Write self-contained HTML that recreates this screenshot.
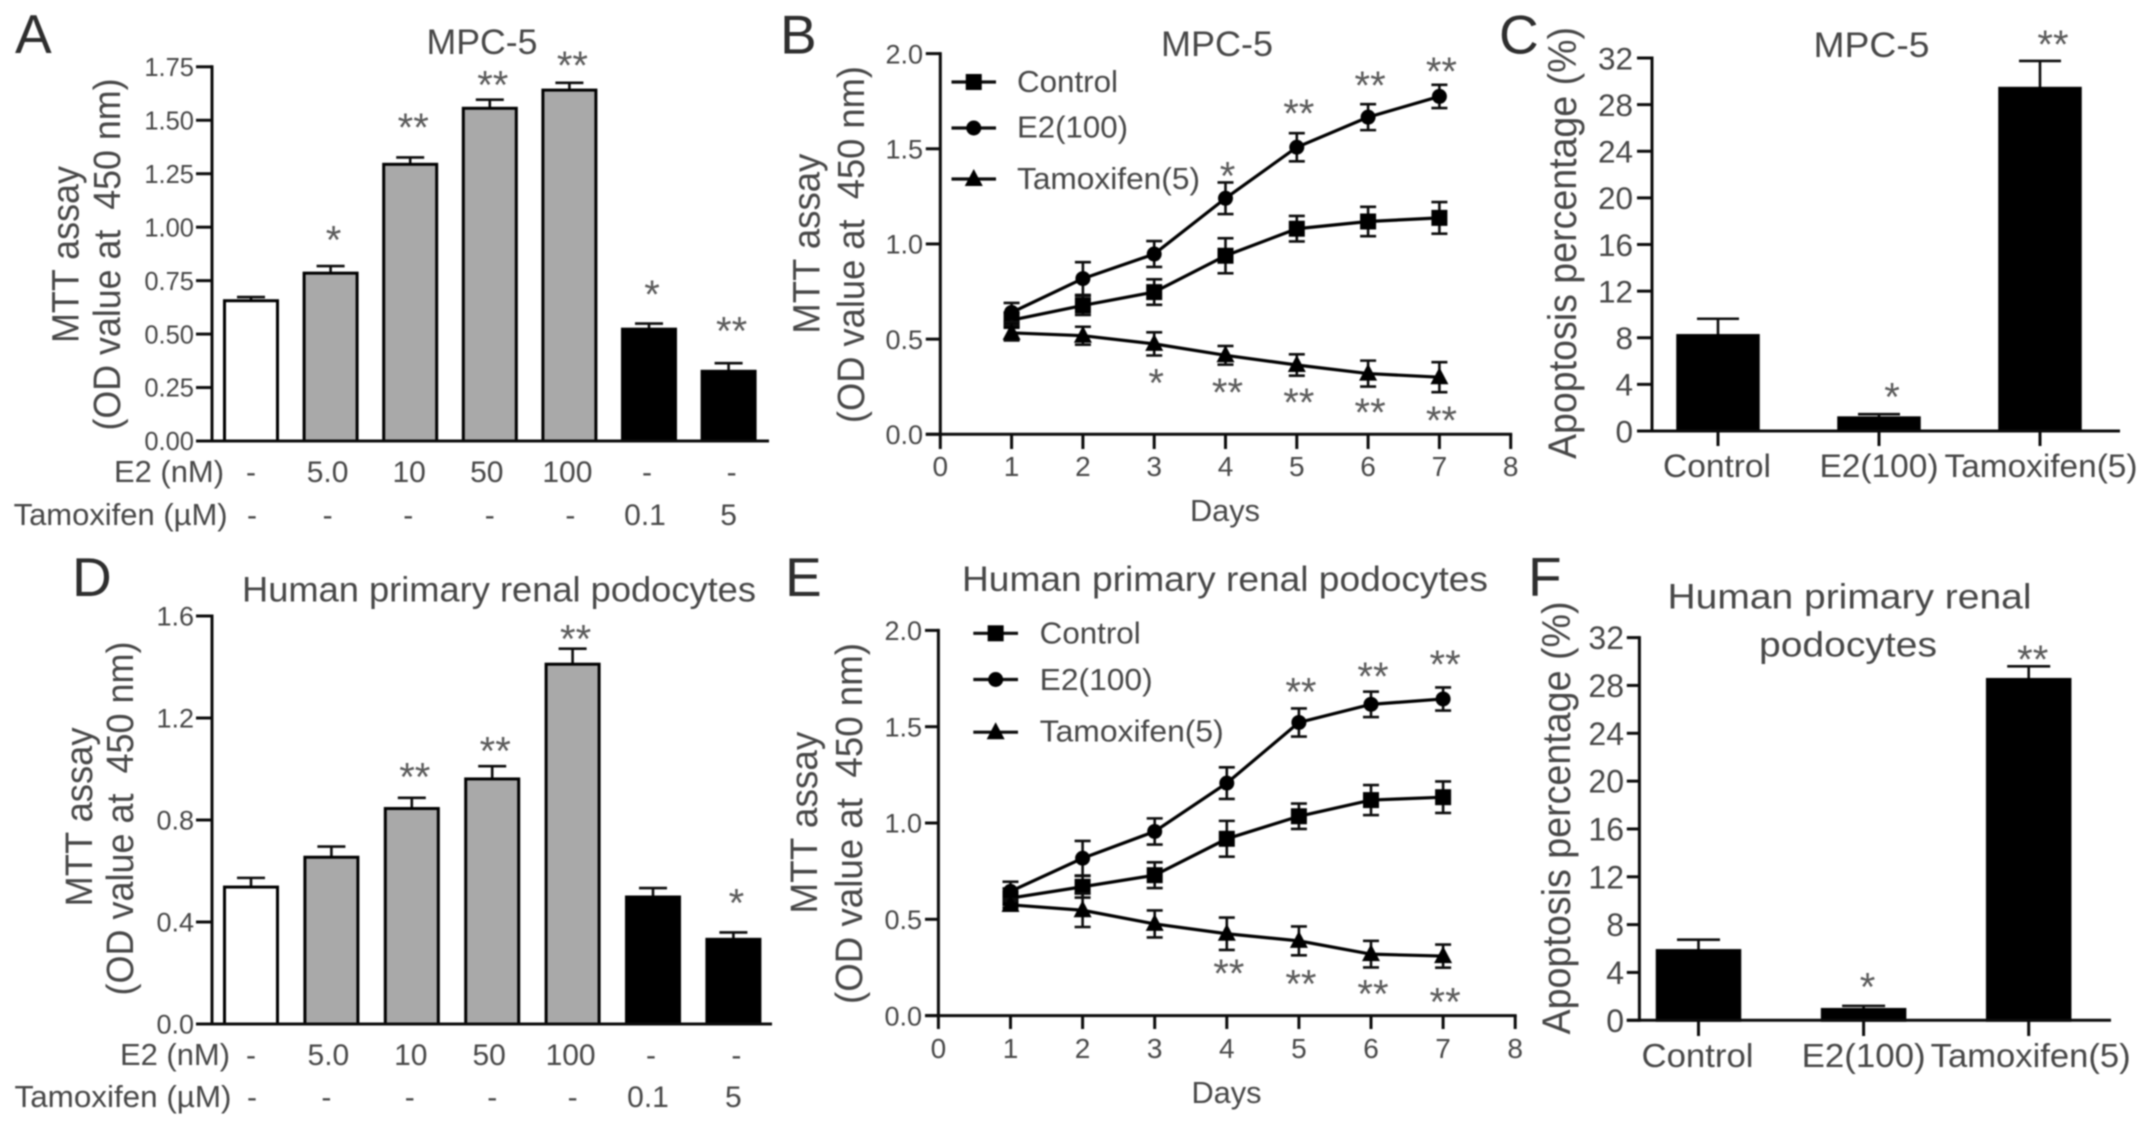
<!DOCTYPE html>
<html lang="en">
<head>
<meta charset="utf-8">
<title>MTT assay and apoptosis panels</title>
<style>
html,body{margin:0;padding:0;background:#fff;width:2150px;height:1126px;overflow:hidden}
svg{display:block;filter:blur(0.8px)}
text{font-family:"Liberation Sans",sans-serif;fill:#474747;white-space:pre}
.let{fill:#2e2e2e;font-size:55px}
.ttl{font-size:35px}
.ytl{font-size:38px;text-anchor:middle}
.row{font-size:31px}
</style>
</head>
<body>
<svg id="fig" xmlns="http://www.w3.org/2000/svg" width="2150" height="1126" viewBox="0 0 2150 1126">
<rect x="0" y="0" width="2150" height="1126" fill="#fff"/>
<text class="let" x="15" y="53">A</text>
<text class="let" x="780" y="53.5">B</text>
<text class="let" x="1499" y="53.5">C</text>
<text class="let" x="72" y="596">D</text>
<text class="let" x="785" y="596">E</text>
<text class="let" x="1528" y="596">F</text>

<text class="ttl" x="482" y="54" text-anchor="middle" textLength="111" lengthAdjust="spacingAndGlyphs">MPC-5</text>
<text class="ttl" x="1217" y="56" text-anchor="middle" textLength="112" lengthAdjust="spacingAndGlyphs">MPC-5</text>
<text class="ttl" x="1871.5" y="57" text-anchor="middle" textLength="116" lengthAdjust="spacingAndGlyphs">MPC-5</text>
<text class="ttl" x="499" y="601.5" text-anchor="middle" textLength="514" lengthAdjust="spacingAndGlyphs">Human primary renal podocytes</text>
<text class="ttl" x="1225" y="591" text-anchor="middle" textLength="526" lengthAdjust="spacingAndGlyphs">Human primary renal podocytes</text>
<text class="ttl" x="1849.5" y="608.5" text-anchor="middle" textLength="364" lengthAdjust="spacingAndGlyphs">Human primary renal</text>
<text class="ttl" x="1848" y="656.5" text-anchor="middle" textLength="178" lengthAdjust="spacingAndGlyphs">podocytes</text>

<text class="ytl" transform="translate(78.5,254.5) rotate(-90)" textLength="177" lengthAdjust="spacingAndGlyphs">MTT assay</text>
<text class="ytl" transform="translate(120,254.5) rotate(-90)" textLength="352" lengthAdjust="spacingAndGlyphs">(OD value at  450 nm)</text>
<text class="ytl" transform="translate(819.6,243.7) rotate(-90)" textLength="180" lengthAdjust="spacingAndGlyphs">MTT assay</text>
<text class="ytl" transform="translate(864,244.6) rotate(-90)" textLength="357" lengthAdjust="spacingAndGlyphs">(OD value at  450 nm)</text>
<text class="ytl" style="font-size:40px" transform="translate(1576,243) rotate(-90)" textLength="432" lengthAdjust="spacingAndGlyphs">Apoptosis percentage (%)</text>
<text class="ytl" transform="translate(92,817) rotate(-90)" textLength="179" lengthAdjust="spacingAndGlyphs">MTT assay</text>
<text class="ytl" transform="translate(133,818.5) rotate(-90)" textLength="354" lengthAdjust="spacingAndGlyphs">(OD value at  450 nm)</text>
<text class="ytl" transform="translate(817,822.6) rotate(-90)" textLength="182" lengthAdjust="spacingAndGlyphs">MTT assay</text>
<text class="ytl" transform="translate(862,823.5) rotate(-90)" textLength="361" lengthAdjust="spacingAndGlyphs">(OD value at  450 nm)</text>
<text class="ytl" style="font-size:40px" transform="translate(1570,818) rotate(-90)" textLength="433" lengthAdjust="spacingAndGlyphs">Apoptosis percentage (%)</text>

<text class="row" x="114" y="482" textLength="110" lengthAdjust="spacingAndGlyphs">E2 (nM)</text>
<text class="row" x="13.6" y="525" textLength="214" lengthAdjust="spacingAndGlyphs">Tamoxifen (µM)</text>
<text class="row" x="120" y="1065" textLength="110" lengthAdjust="spacingAndGlyphs">E2 (nM)</text>
<text class="row" x="14.5" y="1107" textLength="217" lengthAdjust="spacingAndGlyphs">Tamoxifen (µM)</text>

<text class="row" x="1225" y="521" text-anchor="middle" textLength="70" lengthAdjust="spacingAndGlyphs">Days</text>
<text class="row" x="1226.5" y="1103" text-anchor="middle" textLength="70" lengthAdjust="spacingAndGlyphs">Days</text>
</svg>
<script>
// ---- Panel A data ----
const aValues = [0.656, 0.785, 1.294, 1.556, 1.641, 0.523, 0.326];
const aErrors = [0.017, 0.033, 0.032, 0.040, 0.034, 0.026, 0.038];
const aSig = ['', '*', '**', '**', '**', '*', '**'];
const aSigAt = [0, 0.968, 1.494, 1.694, 1.786, 0.713, 0.543];
const aFills = ['white', 'grey', 'grey', 'grey', 'grey', 'black', 'black'];
const aE2 = ['-', '5.0', '10', '50', '100', '-', '-'];
const aTam = ['-', '-', '-', '-', '-', '0.1', '5'];
const aTicks = ['0.00', '0.25', '0.50', '0.75', '1.00', '1.25', '1.50', '1.75'];

// ---- Panel D data ----
const dValues = [0.537, 0.654, 0.845, 0.961, 1.411, 0.498, 0.332];
const dErrors = [0.036, 0.042, 0.042, 0.050, 0.061, 0.035, 0.027];
const dSig = ['', '', '**', '**', '**', '', '*'];
const dSigAt = [0, 0, 0.992, 1.095, 1.534, 0, 0.499];
const dFills = ['white', 'grey', 'grey', 'grey', 'grey', 'black', 'black'];
const dE2 = ['-', '5.0', '10', '50', '100', '-', '-'];
const dTam = ['-', '-', '-', '-', '-', '0.1', '5'];
const dTicks = ['0.0', '0.4', '0.8', '1.2', '1.6'];

// ---- Panel C data ----
const cCategories = ['Control', 'E2(100)', 'Tamoxifen(5)'];
const cValues = [8.19, 1.13, 29.4];
const cErrors = [1.44, 0.31, 2.35];
const cSig = ['', '*', '**'];
const cSigAt = [0, 3.44, 33.7];
const cTicks = ['0', '4', '8', '12', '16', '20', '24', '28', '32'];

// ---- Panel F data ----
const fCategories = ['Control', 'E2(100)', 'Tamoxifen(5)'];
const fValues = [5.83, 0.906, 28.5];
const fErrors = [0.91, 0.30, 1.10];
const fSig = ['', '*', '**'];
const fSigAt = [0, 3.32, 30.7];
const fTicks = ['0', '4', '8', '12', '16', '20', '24', '28', '32'];

// ---- Panel B data ----
const days = [1, 2, 3, 4, 5, 6, 7];
const dayTicks = ['0', '1', '2', '3', '4', '5', '6', '7', '8'];
const seriesNames = ['Control', 'E2(100)', 'Tamoxifen(5)'];
const bControl = [0.60, 0.677, 0.747, 0.938, 1.08, 1.118, 1.137];
const bControlErr = [0.04, 0.05, 0.067, 0.092, 0.067, 0.077, 0.083];
const bE2 = [0.64, 0.818, 0.947, 1.24, 1.508, 1.666, 1.775];
const bE2Err = [0.05, 0.086, 0.068, 0.083, 0.074, 0.068, 0.061];
const bTam = [0.533, 0.518, 0.475, 0.415, 0.364, 0.319, 0.30];
const bTamErr = [0.04, 0.047, 0.061, 0.049, 0.056, 0.068, 0.079];
const bSigUpper = ['', '', '', '*', '**', '**', '**'];
const bSigUpperAt = [0, 0, 0, 1.39, 1.719, 1.865, 1.938];
const bSigLower = ['', '', '*', '**', '**', '**', '**'];
const bSigLowerAt = [0, 0, 0.302, 0.251, 0.199, 0.146, 0.105];
const bTicks = ['0.0', '0.5', '1.0', '1.5', '2.0'];

// ---- Panel E data ----
const eControl = [0.61, 0.669, 0.729, 0.918, 1.035, 1.119, 1.134];
const eControlErr = [0.05, 0.056, 0.067, 0.093, 0.066, 0.078, 0.082];
const eE2 = [0.645, 0.817, 0.956, 1.207, 1.522, 1.616, 1.644];
const eE2Err = [0.05, 0.09, 0.068, 0.082, 0.073, 0.066, 0.06];
const eTam = [0.575, 0.547, 0.476, 0.425, 0.388, 0.319, 0.309];
const eTamErr = [0.03, 0.087, 0.07, 0.084, 0.075, 0.069, 0.06];
const eSigUpper = ['', '', '', '', '**', '**', '**'];
const eSigUpperAt = [0, 0, 0, 0, 1.713, 1.792, 1.856];
const eSigLower = ['', '', '', '**', '**', '**', '**'];
const eSigLowerAt = [0, 0, 0, 0.251, 0.197, 0.144, 0.103];
const eTicks = ['0.0', '0.5', '1.0', '1.5', '2.0'];

const NS = 'http://www.w3.org/2000/svg';
const fig = document.getElementById('fig');
const INK = '#0c0c0c';
const FILLS = { white: '#ffffff', grey: '#a9a9a9', black: '#000000' };

function mk(tag, attrs, parent) {
  const el = document.createElementNS(NS, tag);
  for (const k in attrs) el.setAttribute(k, attrs[k]);
  parent.appendChild(el);
  return el;
}
function seg(x1, y1, x2, y2, w, parent) {
  return mk('line', { x1: x1, y1: y1, x2: x2, y2: y2, stroke: INK, 'stroke-width': w }, parent);
}
function txt(s, x, y, fs, anchor, parent) {
  const el = mk('text', { x: x, y: y, 'font-size': fs, 'text-anchor': anchor }, parent);
  el.textContent = s;
  return el;
}
function star(s, x, yc, parent) {
  const el = txt(s, x, yc + 0.58 * 40 - 3.5, 40, 'middle', parent);
  el.style.fill = '#5a5a5a';
  return el;
}
function marker(kind, x, y, parent) {
  if (kind === 0) return mk('rect', { x: x - 8, y: y - 8, width: 16, height: 16, fill: '#000' }, parent);
  if (kind === 1) return mk('circle', { cx: x, cy: y, r: 7.5, fill: '#000' }, parent);
  return mk('polygon', { points: (x) + ',' + (y - 10) + ' ' + (x + 9) + ',' + (y + 7) + ' ' + (x - 9) + ',' + (y + 7), fill: '#000' }, parent);
}

function yAxis(L, ticks, id, g) {
  const top = L.y(parseFloat(ticks[ticks.length - 1]));
  const ax = seg(L.ax, top - 1.5, L.ax, L.y(0) + 1.5, 3, g);
  
  
  ticks.forEach(function (t) {
    const v = parseFloat(t);
    const tk = seg(L.tickL, L.y(v), L.ax, L.y(v), 3, g);
    
    
    const lb = txt(t, L.tickX, L.y(v) + L.tickFs * 0.36, L.tickFs, 'end', g);
    
    
  });
}
function errorBar(x, yMid, yTop, capW, g, name) {
  const st = seg(x, yMid, x, yTop, 2.6, g);
  
  
  const cp = seg(x - capW / 2, yTop, x + capW / 2, yTop, 2.6, g);
  
  
}

function groupedBars(L, values, errors, sig, sigAt, fills, ticks, id) {
  const g = mk('g', {}, fig);
  
  
  values.forEach(function (v, i) {
    const cx = L.bx(i);
    errorBar(cx, L.y(v), L.y(v + errors[i]), L.capW, g, 'error-bar-' + id);
    const b = mk('rect', { x: cx - L.bw / 2 + 1.5, y: L.y(v), width: L.bw - 3, height: L.y(0) - L.y(v), fill: FILLS[fills[i]], stroke: '#000', 'stroke-width': 3 }, g);
    
    
    if (sig[i]) {
      const s = star(sig[i], cx + L.sigDx, L.y(sigAt[i]), g);
      
      
    }
  });
  yAxis(L, ticks, id, g);
  const xa = seg(L.tickL, L.y(0), L.xEnd, L.y(0), 3, g);
  
  
  return g;
}

function doseRows(L, row1, row2, g, id) {
  row1.forEach(function (s, i) {
    const t = txt(s, L.bx(i) + L.row1Dx[i], L.row1Y, 30, 'middle', g);
    
    
  });
  row2.forEach(function (s, i) {
    const t = txt(s, L.bx(i) + L.row2Dx[i], L.row2Y, 30, 'middle', g);
    
    
  });
}

function categoryXLabels(L, cats, g, id) {
  cats.forEach(function (c, i) {
    const cx = L.bx(i);
    const tk = seg(cx, L.y(0), cx, L.tickB, 3, g);
    
    
    const t = txt(c, cx + L.catDx[i], L.catY, L.catFs, 'middle', g);
    t.setAttribute('textLength', L.catW[i]);
    t.setAttribute('lengthAdjust', 'spacingAndGlyphs');
    
    
  });
}

function linePanel(L, series, errs, sigU, sigUAt, sigL, sigLAt, ticks, id) {
  const g = mk('g', {}, fig);
  
  
  yAxis(L, ticks, id, g);
  const xa = seg(L.tickL, L.y(0), L.lx(8) + 1.5, L.y(0), 3, g);
  
  
  dayTicks.forEach(function (t) {
    const d = parseFloat(t);
    const tk = seg(L.lx(d), L.y(0), L.lx(d), L.tickB, 3, g);
    
    
    const lb = txt(t, L.lx(d), L.xLabY, 28, 'middle', g);
    
    
  });
  series.forEach(function (vals, k) {
    const pts = days.map(function (d, i) { return L.lx(d) + ',' + L.y(vals[i]); }).join(' ');
    const pl = mk('polyline', { points: pts, fill: 'none', stroke: '#000', 'stroke-width': 3.2 }, g);
    
    
    days.forEach(function (d, i) {
      const x = L.lx(d);
      const yv = L.y(vals[i]);
      errorBar(x, L.y(vals[i] - errs[k][i]), L.y(vals[i] + errs[k][i]), 16, g, 'error-bar-' + id);
      const c1 = seg(x - 8, L.y(vals[i] - errs[k][i]), x + 8, L.y(vals[i] - errs[k][i]), 2.6, g);
      
      
      const m = marker(k, x, yv, g);
      
      
    });
  });
  days.forEach(function (d, i) {
    if (sigU[i]) {
      const s = star(sigU[i], L.lx(d) + 2, L.y(sigUAt[i]), g);
      
      
    }
    if (sigL[i]) {
      const s2 = star(sigL[i], L.lx(d) + 2, L.y(sigLAt[i]), g);
      
      
    }
  });
  seriesNames.forEach(function (n, k) {
    const ln = seg(L.legX1, L.legLineY[k], L.legX2, L.legLineY[k], 3.2, g);
    
    
    const m = marker(k, (L.legX1 + L.legX2) / 2, L.legLineY[k], g);
    
    
    const t = txt(n, L.legTextX, L.legTextY[k], 31, 'start', g);
    t.setAttribute('textLength', L.legW[k]);
    t.setAttribute('lengthAdjust', 'spacingAndGlyphs');
    
    
  });
}

function scaleY(y0, yTopPx, vMax) { return function (v) { return y0 - (y0 - yTopPx) * v / vMax; }; }
function scaleX(x0, step) { return function (i) { return x0 + step * i; }; }

const layA = { ax: 212, tickL: 196, tickX: 194, tickFs: 25.5, xEnd: 769, y: scaleY(441, 66.8, 1.75), bx: scaleX(251, 79.6), bw: 56, capW: 28, sigDx: 3,
  row1Y: 482, row2Y: 525, row1Dx: [0, -3, -1, -3, -2, -2, 3], row2Dx: [1, -3, -2, 0, 1, -4, 0] };
const gA = groupedBars(layA, aValues, aErrors, aSig, aSigAt, aFills, aTicks, 'a');
doseRows(layA, aE2, aTam, gA, 'a');

const layD = { ax: 212, tickL: 196, tickX: 194, tickFs: 27, xEnd: 772, y: scaleY(1024, 616, 1.6), bx: scaleX(251, 80.4), bw: 56, capW: 28, sigDx: 3,
  row1Y: 1065, row2Y: 1107, row1Dx: [0, -3, -1, -3, -2, -2, 3], row2Dx: [1, -5, -2, 0, 0, -5, 0] };
const gD = groupedBars(layD, dValues, dErrors, dSig, dSigAt, dFills, dTicks, 'd');
doseRows(layD, dE2, dTam, gD, 'd');

const layC = { ax: 1652, tickL: 1637, tickX: 1633, tickFs: 31.5, xEnd: 2120, y: scaleY(431, 58, 32), bx: scaleX(1718, 161), bw: 83.5, capW: 42, sigDx: 13,
  tickB: 446, catY: 477, catFs: 32, catDx: [-1, 0, 1], catW: [108, 119, 193] };
const threeFills = ['black', 'black', 'black'];
const gC = groupedBars(layC, cValues, cErrors, cSig, cSigAt, threeFills, cTicks, 'c');
categoryXLabels(layC, cCategories, gC, 'c');

const layF = { ax: 1639.4, tickL: 1626.8, tickX: 1624, tickFs: 32, xEnd: 2111, y: scaleY(1020.3, 637.6, 32), bx: scaleX(1698.5, 165.1), bw: 85.5, capW: 43, sigDx: 4,
  tickB: 1036, catY: 1067, catFs: 33, catDx: [-1, 0, 2], catW: [112, 124, 200] };
const gF = groupedBars(layF, fValues, fErrors, fSig, fSigAt, threeFills, fTicks, 'f');
categoryXLabels(layF, fCategories, gF, 'f');

const layB = { ax: 940.3, tickL: 925.8, tickX: 923, tickFs: 27, y: scaleY(434.3, 53.6, 2), lx: scaleX(940.3, 71.3), tickB: 449, xLabY: 476,
  legX1: 951.5, legX2: 996, legLineY: [82, 128, 179], legTextX: 1017, legTextY: [92, 137.5, 189], legW: [101, 111, 183] };
linePanel(layB, [bControl, bE2, bTam], [bControlErr, bE2Err, bTamErr], bSigUpper, bSigUpperAt, bSigLower, bSigLowerAt, bTicks, 'b');

const layE = { ax: 938.4, tickL: 925, tickX: 922, tickFs: 27, y: scaleY(1015.6, 630.4, 2), lx: scaleX(938.4, 72.1), tickB: 1029, xLabY: 1058,
  legX1: 973.3, legX2: 1018, legLineY: [633.3, 679.5, 732.2], legTextX: 1039.7, legTextY: [643.7, 690, 741.6], legW: [101, 113, 184] };
linePanel(layE, [eControl, eE2, eTam], [eControlErr, eE2Err, eTamErr], eSigUpper, eSigUpperAt, eSigLower, eSigLowerAt, eTicks, 'e');
</script>
</body>
</html>
